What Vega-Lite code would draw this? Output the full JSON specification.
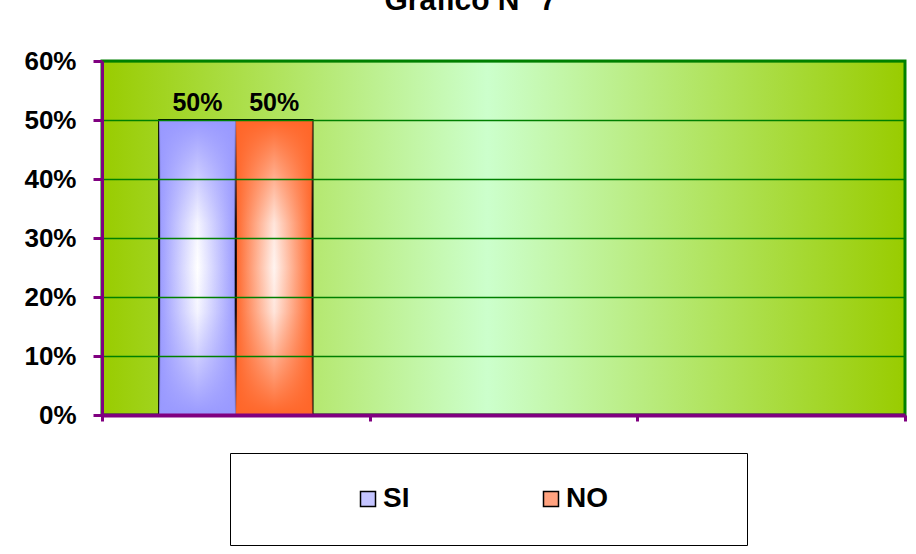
{
  "$schema": "https://vega.github.io/schema/vega-lite/v6.json",
  "autosize": "none",
  "width": 803,
  "height": 354,
  "padding": {"left": 102, "top": 61, "right": 11, "bottom": 139},
  "background": "white",
  "title": {
    "text": "Gráfico N° 7",
    "font": "Liberation Sans",
    "fontSize": 30,
    "fontWeight": "bold",
    "color": "black",
    "anchor": "middle",
    "frame": "group",
    "dx": -33,
    "offset": 32
  },
  "data": {
    "values": [
      {"grupo": "A", "serie": "SI", "valor": 0.5},
      {"grupo": "A", "serie": "NO", "valor": 0.5}
    ]
  },
  "encoding": {
    "x": {
      "field": "grupo",
      "type": "nominal",
      "scale": {"domain": ["A", "B", "C"], "paddingInner": 0, "paddingOuter": 0},
      "axis": {
        "title": null,
        "labels": false,
        "tickBand": "extent",
        "domainColor": "#800080",
        "domainWidth": 4,
        "tickColor": "#800080",
        "tickWidth": 3,
        "tickSize": 6,
        "zindex": 2
      }
    },
    "xOffset": {
      "field": "serie",
      "type": "nominal",
      "sort": ["SI", "NO"],
      "scale": {"domain": ["SI", "NO"], "paddingInner": 0, "paddingOuter": 0.745}
    },
    "y": {
      "field": "valor",
      "type": "quantitative",
      "scale": {"domain": [0, 0.6], "nice": false},
      "axis": {
        "title": null,
        "values": [0, 0.1, 0.2, 0.3, 0.4, 0.5, 0.6],
        "format": ".0%",
        "labelFont": "Liberation Sans",
        "labelFontSize": 26,
        "labelFontWeight": "bold",
        "labelColor": "black",
        "labelPadding": 17,
        "tickSize": 9,
        "tickWidth": 3,
        "tickColor": "#800080",
        "domainColor": "#800080",
        "domainWidth": 3,
        "grid": true,
        "gridColor": "#008000",
        "gridWidth": 1.5,
        "zindex": 1
      }
    }
  },
  "layer": [
    {
      "mark": {"type": "bar", "stroke": "black", "strokeWidth": 2},
      "encoding": {
        "fill": {
          "condition": {
            "test": "datum.serie === 'SI'",
            "value": {
              "gradient": "linear", "x1": 0, "y1": 0, "x2": 1, "y2": 0,
              "stops": [
                {"offset": 0, "color": "#9999ff"},
                {"offset": 0.5, "color": "#ffffff"},
                {"offset": 1, "color": "#9999ff"}
              ]
            }
          },
          "value": {
            "gradient": "linear", "x1": 0, "y1": 0, "x2": 1, "y2": 0,
            "stops": [
              {"offset": 0, "color": "#ff6629"},
              {"offset": 0.5, "color": "#fff4f0"},
              {"offset": 1, "color": "#ff6629"}
            ]
          }
        }
      }
    },
    {
      "mark": {"type": "bar", "strokeWidth": 0},
      "encoding": {
        "fill": {
          "condition": {
            "test": "datum.serie === 'SI'",
            "value": {
              "gradient": "linear", "x1": 0, "y1": 0, "x2": 0, "y2": 1,
              "stops": [
                {"offset": 0, "color": "rgba(153,153,255,1)"},
                {"offset": 0.15, "color": "rgba(153,153,255,0.6)"},
                {"offset": 0.35, "color": "rgba(153,153,255,0.1)"},
                {"offset": 0.5, "color": "rgba(153,153,255,0)"},
                {"offset": 0.65, "color": "rgba(153,153,255,0.1)"},
                {"offset": 0.85, "color": "rgba(153,153,255,0.6)"},
                {"offset": 1, "color": "rgba(153,153,255,1)"}
              ]
            }
          },
          "value": {
            "gradient": "linear", "x1": 0, "y1": 0, "x2": 0, "y2": 1,
            "stops": [
              {"offset": 0, "color": "rgba(255,102,41,1)"},
              {"offset": 0.15, "color": "rgba(255,102,41,0.6)"},
              {"offset": 0.35, "color": "rgba(255,102,41,0.1)"},
              {"offset": 0.5, "color": "rgba(255,102,41,0)"},
              {"offset": 0.65, "color": "rgba(255,102,41,0.1)"},
              {"offset": 0.85, "color": "rgba(255,102,41,0.6)"},
              {"offset": 1, "color": "rgba(255,102,41,1)"}
            ]
          }
        }
      }
    },
    {
      "mark": {
        "type": "text",
        "font": "Liberation Sans",
        "fontSize": 25,
        "fontWeight": "bold",
        "color": "black",
        "baseline": "alphabetic",
        "dy": -9
      },
      "encoding": {
        "text": {"field": "valor", "type": "quantitative", "format": ".0%"}
      }
    },
    {
      "mark": {"type": "point", "shape": "square", "filled": true, "opacity": 0},
      "encoding": {
        "y": {"datum": 0},
        "color": {
          "field": "serie",
          "type": "nominal",
          "sort": ["SI", "NO"],
          "scale": {"domain": ["SI", "NO"], "range": ["#c4c4ff", "#ffa27f"]},
          "legend": {
            "orient": "none",
            "legendX": 128,
            "legendY": 392,
            "direction": "horizontal",
            "title": "\u00a0",
            "titleOrient": "right",
            "titlePadding": 107,
            "titleFontSize": 28,
            "padding": 32,
            "strokeColor": "black",
            "fillColor": "white",
            "symbolType": "square",
            "symbolSize": 225,
            "symbolOpacity": 1,
            "symbolStrokeColor": "black",
            "symbolStrokeWidth": 1.5,
            "symbolOffset": 92,
            "labelFont": "Liberation Sans",
            "labelFontSize": 28,
            "labelFontWeight": "bold",
            "labelColor": "black",
            "labelOffset": 1,
            "columnPadding": 35
          }
        }
      }
    }
  ],
  "config": {
    "view": {
      "fill": {
        "gradient": "linear", "x1": 0, "y1": 0, "x2": 1, "y2": 0,
        "stops": [
          {"offset": 0, "color": "#99cc00"},
          {"offset": 0.48, "color": "#ccffcc"},
          {"offset": 1, "color": "#99cc00"}
        ]
      },
      "stroke": "#008000",
      "strokeWidth": 3
    }
  }
}
